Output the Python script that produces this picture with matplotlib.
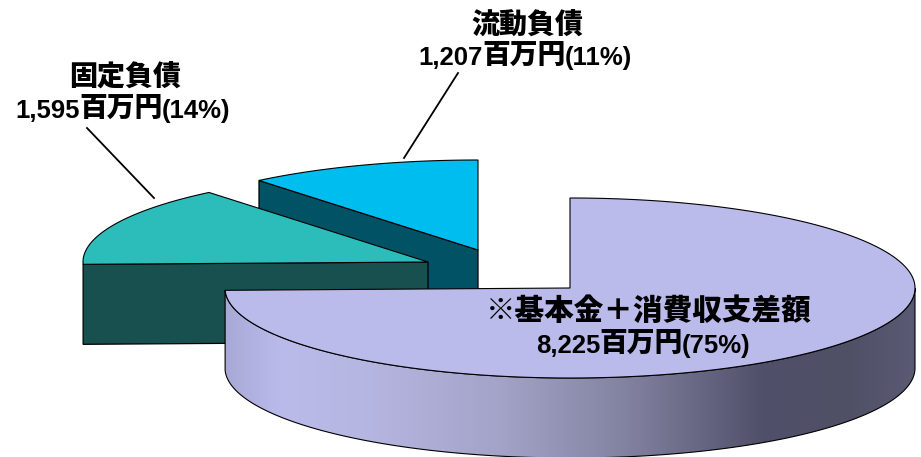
import numpy as np
import matplotlib
matplotlib.use("Agg")
import matplotlib.pyplot as plt
from matplotlib.patches import Polygon
from matplotlib.colors import LinearSegmentedColormap

CJK = ['Noto Sans CJK JP', 'DejaVu Sans']
LATIN = ['Liberation Sans', 'DejaVu Sans']
plt.rcParams['font.family'] = CJK

names = ['※基本金＋消費収支差額', '固定負債', '流動負債']
values = [8225, 1595, 1207]
percents = [75, 14, 11]
unit = '百万円'
top_colors = ['#BBBBEB', '#2CBDBB', '#00BDF0']
side_colors = [None, '#17504F', '#025266']
centers = [(570, 288), (428, 262), (478, 250)]
name_pos = [(649, 311), (125, 77), (527, 25)]
unit_pos = [(641, 343), (121, 108), (524, 55)]
name_size = [21.3, 20.2, 20.2]
leaders = [None, ((87, 128), (154, 198)), ((458, 73), (404, 158))]

RX, RY, DEPTH = 345, 90, 80
OUT = 'k'

fig = plt.figure(figsize=(9.21, 4.57), dpi=100)
ax = fig.add_axes([0, 0, 1, 1])
ax.set_xlim(0, 921)
ax.set_ylim(457, 0)
ax.axis('off')


def arc(c, a0, a1, n=200):
    """Clockwise angles measured from 12 o'clock, in degrees."""
    t = np.radians(np.linspace(a0, a1, n))
    return np.column_stack([c[0] + RX * np.sin(t), c[1] - RY * np.cos(t)])


total = sum(values)
starts = 360 * np.concatenate([[0], np.cumsum(values)[:-1]]) / total
spans = 360 * np.array(values) / total

# back slices first: blue, then teal, then the large slice
for i in [2, 1]:
    c, a0, a1 = centers[i], starts[i], starts[i] + spans[i]
    cy = np.array(c, float)
    p_out = arc(c, a0, a0, 1)[0]
    face = np.array([p_out, cy, cy + [0, DEPTH], p_out + [0, DEPTH]])
    ax.add_patch(Polygon(face, closed=True, fc=side_colors[i], ec=OUT, lw=0.9, zorder=2 + 2 * (2 - i)))
    top = np.vstack([[c], arc(c, a0, a1)])
    ax.add_patch(Polygon(top, closed=True, fc=top_colors[i], ec=OUT, lw=0.8, zorder=3 + 2 * (2 - i)))

# large slice: gradient outer wall
c = centers[0]
front_top = arc(c, 90, starts[0] + spans[0])
front_bot = front_top[::-1] + [0, DEPTH]
wall = Polygon(np.vstack([front_top, front_bot]), closed=True, fc='none', ec=OUT, lw=0.8, zorder=8)
ax.add_patch(wall)
cmap = LinearSegmentedColormap.from_list('wall', [
    (0.00, '#A9A9D8'), (0.08, '#BBBBEB'), (0.20, '#B6B6E2'), (0.40, '#A3A3C8'),
    (0.60, '#7E7E9C'), (0.78, '#50506A'), (0.90, '#4F4F66'), (1.00, '#5A5A74')])
grad = np.linspace(0, 1, 512).reshape(1, -1)
im = ax.imshow(grad, cmap=cmap, extent=(c[0] - RX, c[0] + RX, 457, 0), aspect='auto', zorder=7)
im.set_clip_path(wall)
ax.set_xlim(0, 921)
ax.set_ylim(457, 0)

top = np.vstack([[c], arc(c, starts[0], starts[0] + spans[0], 400)])
ax.add_patch(Polygon(top, closed=True, fc=top_colors[0], ec=OUT, lw=0.8, zorder=9))

# labels and leader lines
for i, name in enumerate(names):
    x, y = name_pos[i]
    ax.text(x, y, name, ha='center', va='center', fontsize=name_size[i], fontweight='black', color='k', zorder=12)
    x, y = unit_pos[i]
    ax.text(x, y, unit, ha='center', va='center', fontsize=20, fontweight='black', color='k', zorder=12)
    ax.text(x - 41, y + 10, f'{values[i]:,}', ha='right', va='baseline', family=LATIN,
            fontsize=18.5, fontweight='bold', color='k', zorder=12)
    ax.text(x + 41, y + 10, f'({percents[i]}%)', ha='left', va='baseline', family=LATIN,
            fontsize=18.5, fontweight='bold', color='k', zorder=12)
    if leaders[i]:
        (x0, y0), (x1, y1) = leaders[i]
        ax.plot([x0, x1], [y0, y1], color='k', lw=1.3, zorder=11)

fig.savefig('out.png', dpi=100)
